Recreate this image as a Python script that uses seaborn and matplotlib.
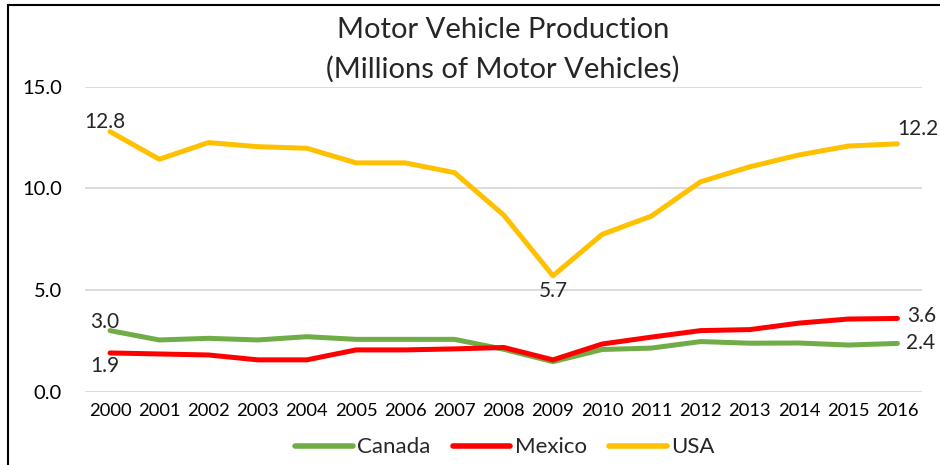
import pandas as pd
import matplotlib.pyplot as plt
import matplotlib.patches as mpatches
import seaborn as sns

years = list(range(2000, 2017))
canada = [3.0, 2.54, 2.62, 2.54, 2.70, 2.57, 2.57, 2.57, 2.08, 1.47, 2.07, 2.14, 2.46, 2.38, 2.39, 2.29, 2.37]
mexico = [1.9, 1.85, 1.80, 1.56, 1.56, 2.05, 2.05, 2.10, 2.17, 1.56, 2.34, 2.68, 3.00, 3.05, 3.37, 3.57, 3.60]
usa = [12.8, 11.44, 12.26, 12.06, 11.98, 11.26, 11.26, 10.78, 8.69, 5.7, 7.74, 8.64, 10.33, 11.07, 11.65, 12.09, 12.2]
countries = ["Canada", "Mexico", "USA"]
colors = {"Canada": "#70AD47", "Mexico": "#FF0000", "USA": "#FFC000"}

df = pd.DataFrame({
    "Year": years * 3,
    "Value": canada + mexico + usa,
    "Country": ["Canada"] * 17 + ["Mexico"] * 17 + ["USA"] * 17,
})

sns.set_style("white")
plt.rcParams["font.family"] = ["Lato", "DejaVu Sans"]

fig = plt.figure(figsize=(9.4, 4.65), dpi=100)
ax = fig.add_axes([0.0909, 0.158, 0.890, 0.655])

sns.lineplot(data=df, x="Year", y="Value", hue="Country", palette=colors,
             hue_order=countries, linewidth=3.6, ax=ax, legend=False,
             solid_capstyle="round")

ax.set_xlim(1999.5, 2016.5)
ax.set_ylim(0, 15)
ax.set_yticks([0, 5, 10, 15])
ax.set_yticklabels([f"{v:.1f}" for v in [0, 5, 10, 15]])
ax.set_xticks(years)
ax.set_xticklabels([str(y) for y in years])
ax.tick_params(axis="x", labelsize=13.2, length=0, colors="black", pad=8)
ax.tick_params(axis="y", labelsize=14.5, length=0, colors="black", pad=17)
ax.grid(axis="y", color="#d9d9d9", linewidth=1.3)
ax.set_axisbelow(True)
ax.set_xlabel("")
ax.set_ylabel("")
for s in ax.spines.values():
    s.set_visible(False)

# data labels
lbl = dict(fontsize=15, textcoords="offset points")
ax.annotate(f"{usa[0]:.1f}", (years[0], usa[0]), xytext=(-4, 0), ha="center", va="bottom", **lbl)
ax.annotate(f"{usa[-1]:.1f}", (years[-1], usa[-1]), xytext=(0, 11), ha="left", va="center", **lbl)
ax.annotate(f"{usa[9]:.1f}", (years[9], usa[9]), xytext=(0, -4), ha="center", va="top", **lbl)
ax.annotate(f"{canada[0]:.1f}", (years[0], canada[0]), xytext=(-4, -1), ha="center", va="bottom", **lbl)
ax.annotate(f"{mexico[0]:.1f}", (years[0], mexico[0]), xytext=(-4, -2), ha="center", va="top", **lbl)
ax.annotate(f"{mexico[-1]:.1f}", (years[-1], mexico[-1]), xytext=(7, 2), ha="left", va="center", **lbl)
ax.annotate(f"{canada[-1]:.1f}", (years[-1], canada[-1]), xytext=(6, 0), ha="left", va="center", **lbl)

fig.text(0.535, 0.935, "Motor Vehicle Production", ha="center", va="center", fontsize=21)
fig.text(0.535, 0.85, "(Millions of Motor Vehicles)", ha="center", va="center", fontsize=21)

handles = [plt.Line2D([], [], color=colors[c], linewidth=4) for c in countries]
fig.legend(handles, countries, loc="center", bbox_to_anchor=(0.537, 0.038), ncol=3,
           frameon=False, fontsize=16, handlelength=2.6, handletextpad=0.2, columnspacing=1.0)

# outer chart border (left and top visible)
fig.patches.append(mpatches.Rectangle((8 / 940, -0.1), 1.2, 1.1 - 5 / 465, transform=fig.transFigure,
                                      fill=False, edgecolor="black", linewidth=1.5))

fig.savefig("out.png", dpi=100)
